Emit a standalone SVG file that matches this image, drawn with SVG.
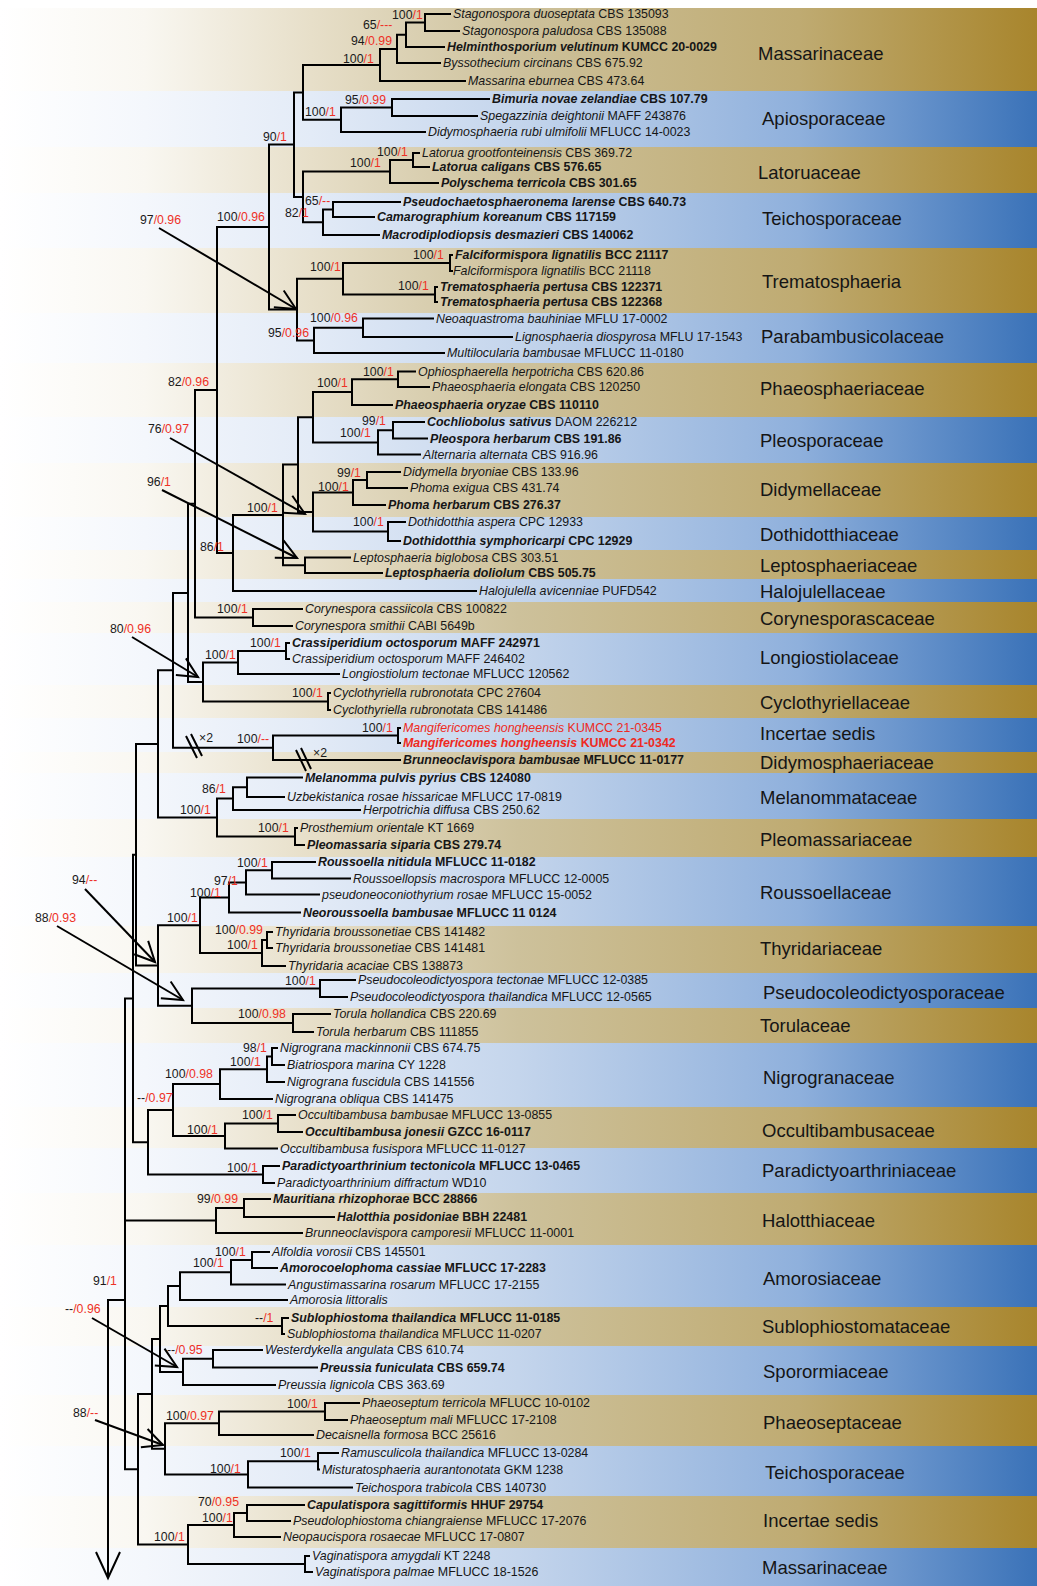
<svg xmlns="http://www.w3.org/2000/svg" width="1037" height="1586" viewBox="0 0 1037 1586">
<style>
.tx{font-family:"Liberation Sans",Arial,sans-serif;font-size:12.4px;fill:#161616}
.b{font-weight:bold}
.i{font-style:italic}
.red{fill:#ee2a22}
.s{font-family:"Liberation Sans",Arial,sans-serif;font-size:12.3px;fill:#1a1a1a}
.p{fill:#ee3126}
.f{font-family:"Liberation Sans",Arial,sans-serif;font-size:18.5px;fill:#151515}
.ln{fill:none;stroke:#000;stroke-width:2;stroke-linecap:square}
.ar{fill:none;stroke:#000;stroke-width:2}
</style>
<defs>
<linearGradient id="gt" x1="0" y1="0" x2="1037" y2="0" gradientUnits="userSpaceOnUse">
<stop offset="0" stop-color="#ffffff"/>
<stop offset="0.14" stop-color="#f9f7f1"/>
<stop offset="0.3" stop-color="#e7dfc9"/>
<stop offset="0.5" stop-color="#cdc19b"/>
<stop offset="0.77" stop-color="#bfab72"/>
<stop offset="1" stop-color="#a8852c"/>
</linearGradient>
<linearGradient id="gb" x1="0" y1="0" x2="1037" y2="0" gradientUnits="userSpaceOnUse">
<stop offset="0" stop-color="#ffffff"/>
<stop offset="0.14" stop-color="#f4f7fc"/>
<stop offset="0.3" stop-color="#e3ebf7"/>
<stop offset="0.5" stop-color="#c4d5ec"/>
<stop offset="0.77" stop-color="#8fb0dc"/>
<stop offset="1" stop-color="#3a72b8"/>
</linearGradient>
<marker id="ah" markerUnits="userSpaceOnUse" markerWidth="24" markerHeight="24" refX="20" refY="10" orient="auto" overflow="visible">
<path d="M0,0.3 L20,10 L0,19.7" fill="none" stroke="#000" stroke-width="2"/>
</marker>
</defs>
<rect width="1037" height="1586" fill="#ffffff"/>
<g id="bands">
<rect x="0" y="8" width="1037" height="83" fill="url(#gt)"/>
<rect x="0" y="91" width="1037" height="56" fill="url(#gb)"/>
<rect x="0" y="147" width="1037" height="46" fill="url(#gt)"/>
<rect x="0" y="193" width="1037" height="55" fill="url(#gb)"/>
<rect x="0" y="248" width="1037" height="65" fill="url(#gt)"/>
<rect x="0" y="313" width="1037" height="50" fill="url(#gb)"/>
<rect x="0" y="363" width="1037" height="54" fill="url(#gt)"/>
<rect x="0" y="417" width="1037" height="46" fill="url(#gb)"/>
<rect x="0" y="463" width="1037" height="54" fill="url(#gt)"/>
<rect x="0" y="517" width="1037" height="33" fill="url(#gb)"/>
<rect x="0" y="550" width="1037" height="29" fill="url(#gt)"/>
<rect x="0" y="579" width="1037" height="23" fill="url(#gb)"/>
<rect x="0" y="602" width="1037" height="31" fill="url(#gt)"/>
<rect x="0" y="633" width="1037" height="52" fill="url(#gb)"/>
<rect x="0" y="685" width="1037" height="33" fill="url(#gt)"/>
<rect x="0" y="718" width="1037" height="34" fill="url(#gb)"/>
<rect x="0" y="752" width="1037" height="21" fill="url(#gt)"/>
<rect x="0" y="773" width="1037" height="46" fill="url(#gb)"/>
<rect x="0" y="819" width="1037" height="38" fill="url(#gt)"/>
<rect x="0" y="857" width="1037" height="69" fill="url(#gb)"/>
<rect x="0" y="926" width="1037" height="47" fill="url(#gt)"/>
<rect x="0" y="973" width="1037" height="35" fill="url(#gb)"/>
<rect x="0" y="1008" width="1037" height="35" fill="url(#gt)"/>
<rect x="0" y="1043" width="1037" height="64" fill="url(#gb)"/>
<rect x="0" y="1107" width="1037" height="41" fill="url(#gt)"/>
<rect x="0" y="1148" width="1037" height="45" fill="url(#gb)"/>
<rect x="0" y="1193" width="1037" height="52" fill="url(#gt)"/>
<rect x="0" y="1245" width="1037" height="62" fill="url(#gb)"/>
<rect x="0" y="1307" width="1037" height="39" fill="url(#gt)"/>
<rect x="0" y="1346" width="1037" height="49" fill="url(#gb)"/>
<rect x="0" y="1395" width="1037" height="51" fill="url(#gt)"/>
<rect x="0" y="1446" width="1037" height="50" fill="url(#gb)"/>
<rect x="0" y="1496" width="1037" height="52" fill="url(#gt)"/>
<rect x="0" y="1548" width="1037" height="38" fill="url(#gb)"/>
</g>
<g id="connectors">
<path class="ln" d="M425 14V31M425 14H450M425 31H459M406 22.5V47M406 22.5H425M406 47H444M397 34.75V63M397 34.75H406M397 63H440M380 48.9V81M380 48.9H397M380 81H465M303 65H380
M392 99V116M392 99H489M392 116H477M341 107.5V132M341 107.5H392M341 132H425M303 119.75H341M303 65V119.75M294 92.4H303
M413 153V167M413 153H419M413 167H429M390 160V183M390 160H413M390 183H438M303 171.5H390
M333 202V217M333 202H400M333 217H374M323 209.5V235M323 209.5H333M323 235H379M303 222.25H323M303 171.5V222.25M294 196.9H303M294 92.4V196.9M269 144.6H294
M450 255V271M450 255H452M450 271H452M343 263H450M435 287V302M435 287H437M435 302H437M343 294.5H435M343 263V294.5M297 278.75H343
M363 318.5V337M363 318.5H433M363 337H512M314 327.75V353M314 327.75H363M314 353H444M297 340.4H314M297 278.75V340.4M269 309.6H297M269 144.6V309.6M217 227.1H269
M398 371.5V387M398 371.5H415M398 387H429M352 379.25V405M352 379.25H398M352 405H392M313 392.1H352
M393 422V438.5M393 422H424M393 438.5H427M378 430.25V454.5M378 430.25H393M378 454.5H420M313 442.4H378M313 392.1V442.4M298 417.25H313
M367 472V488M367 472H400M367 488H407M353 480V505M353 480H367M353 505H385M313 492.5H353
M388 522V541M388 522H405M388 541H400M313 531.5H388M313 492.5V531.5M298 512H313M298 417.25V512M283 464.6H298
M305 557.5V573M305 557.5H350M305 573H382M283 565.25H305M283 464.6V565.25M233 514.9H283M233 591H476M233 514.9V591M217 553H233M217 227.1V553M195 390H217
M253 609V626M253 609H302M253 626H292M195 617.5H253M195 390V617.5M188 503.75H195
M286 643V659M286 643H289M286 659H289M238 651H286M238 674H339M238 651V674M203 662.5H238
M328 693V710M328 693H330M328 710H330M203 701.5H328M203 662.5V701.5M188 682H203M188 503.75V682M173 592.9H188
M398 728V743M398 728H400M398 743H400M273 735.5H398M273 760H400M273 735.5V760M173 747.75H273M173 592.9V747.75M158 670.3H173
M247 777.5V797M247 777.5H302M247 797H284M233 787.25H247M233 810H360M233 787.25V810M217 798.6H233
M295 828V845M295 828H297M295 845H304M217 836.5H295M217 798.6V836.5M158 817.5H217M158 670.3V817.5M136 743.9H158
M272 862V878.5M272 862H315M272 878.5H350M246 870.25V894.5M246 870.25H272M246 894.5H319M229 882.4V912.5M229 882.4H246M229 912.5H300M200 897.4H229
M267 932V948M267 932H272M267 948H272M262 940V966M262 940H267M262 966H285M200 953H262M200 897.4V953M158 925.2H200
M320 980V997M320 980H355M320 997H347M192 988.5H320M293 1014V1032M293 1014H330M293 1032H313M192 1023H293M192 988.5V1023M158 1005.75H192M158 925.2V1005.75M136 965.5H158M136 743.9V965.5M133 854.7H136
M272 1048V1065M272 1048H277M272 1065H284M267 1056.5V1082M267 1056.5H272M267 1082H284M220 1069.25V1099M220 1069.25H267M220 1099H272M173 1084.1H220
M278 1115V1132M278 1115H295M278 1132H302M225 1123.5V1148.5M225 1123.5H278M225 1148.5H277M173 1136H225M173 1084.1V1136M148 1110H173
M263 1166V1183M263 1166H279M263 1183H274M148 1174.5H263M148 1110V1174.5M133 1142.25H148M133 854.7V1142.25M125 998.5H133
M244 1199V1217M244 1199H270M244 1217H334M216 1208V1233M216 1208H244M216 1233H302M125 1220.5H216
M252 1252V1268M252 1252H269M252 1268H277M231 1260V1284.5M231 1260H252M231 1284.5H285M180 1272.25V1300M180 1272.25H231M180 1300H287M168 1286.1H180
M282 1318V1334M282 1318H288M282 1334H284M168 1326H282M168 1286.1V1326M160 1306H168
M213 1350V1367.5M213 1350H262M213 1367.5H317M183 1358.75V1385M183 1358.75H213M183 1385H275M160 1371.9H183M160 1306V1371.9M152 1339H160
M325 1403V1420M325 1403H359M325 1420H347M219 1411.5V1435M219 1411.5H325M219 1435H313M165 1423.25H219
M318 1453V1469.5M318 1453H338M318 1469.5H319M248 1461.25V1487.5M248 1461.25H318M248 1487.5H352M165 1474.4H248M165 1423.25V1474.4M152 1448.8H165M152 1339V1448.8M138 1393.9H152
M247 1505V1521M247 1505H304M247 1521H290M234 1513V1537M234 1513H247M234 1537H280M188 1525H234
M305 1556V1572M305 1556H309M305 1572H312M188 1564H305M188 1525V1564M138 1544.5H188M138 1393.9V1544.5M125 1469.2H138M125 998.5V1469.2
M108 1300H125M108 1300V1576"/>
<path class="ar" d="M96 1552L108 1578L120 1552"/>
<path class="ar" d="M186 736L197 758M191 734L202 756M296 750L306 771M301 748L311 769" stroke-width="1.8"/>
<path class="ar" marker-end="url(#ah)" d="M159 228L296 309"/>
<path class="ar" marker-end="url(#ah)" d="M170 438L305 514"/>
<path class="ar" marker-end="url(#ah)" d="M162 490L297 558"/>
<path class="ar" marker-end="url(#ah)" d="M132 637L198 677"/>
<path class="ar" marker-end="url(#ah)" d="M85 889L155 962"/>
<path class="ar" marker-end="url(#ah)" d="M57 926L183 1000"/>
<path class="ar" marker-end="url(#ah)" d="M92 1318L177 1367"/>
<path class="ar" marker-end="url(#ah)" d="M95 1420L163 1445"/>
</g>
<g id="taxa">
<g id="t1"><text class="tx" x="453" y="18.4"><tspan class="i">Stagonospora duoseptata</tspan> CBS 135093</text></g>
<g id="t2"><text class="tx" x="462" y="35.4"><tspan class="i">Stagonospora paludosa</tspan> CBS 135088</text></g>
<g id="t3"><text class="tx b" x="447" y="51.4"><tspan class="i">Helminthosporium velutinum</tspan> KUMCC 20-0029</text></g>
<g id="t4"><text class="tx" x="443" y="67.4"><tspan class="i">Byssothecium circinans</tspan> CBS 675.92</text></g>
<g id="t5"><text class="tx" x="468" y="85.4"><tspan class="i">Massarina eburnea</tspan> CBS 473.64</text></g>
<g id="t6"><text class="tx b" x="492" y="103.4"><tspan class="i">Bimuria novae zelandiae</tspan> CBS 107.79</text></g>
<g id="t7"><text class="tx" x="480" y="120.4"><tspan class="i">Spegazzinia deightonii</tspan> MAFF 243876</text></g>
<g id="t8"><text class="tx" x="428" y="136.4"><tspan class="i">Didymosphaeria rubi ulmifolii</tspan> MFLUCC 14-0023</text></g>
<g id="t9"><text class="tx" x="422" y="157.4"><tspan class="i">Latorua grootfonteinensis</tspan> CBS 369.72</text></g>
<g id="t10"><text class="tx b" x="432" y="171.4"><tspan class="i">Latorua caligans</tspan> CBS 576.65</text></g>
<g id="t11"><text class="tx b" x="441" y="187.4"><tspan class="i">Polyschema terricola</tspan> CBS 301.65</text></g>
<g id="t12"><text class="tx b" x="403" y="206.4"><tspan class="i">Pseudochaetosphaeronema larense</tspan> CBS 640.73</text></g>
<g id="t13"><text class="tx b" x="377" y="221.4"><tspan class="i">Camarographium koreanum</tspan> CBS 117159</text></g>
<g id="t14"><text class="tx b" x="382" y="239.4"><tspan class="i">Macrodiplodiopsis desmazieri</tspan> CBS 140062</text></g>
<g id="t15"><text class="tx b" x="455" y="259.4"><tspan class="i">Falciformispora lignatilis</tspan> BCC 21117</text></g>
<g id="t16"><text class="tx" x="453" y="275.4"><tspan class="i">Falciformispora lignatilis</tspan> BCC 21118</text></g>
<g id="t17"><text class="tx b" x="440" y="291.4"><tspan class="i">Trematosphaeria pertusa</tspan> CBS 122371</text></g>
<g id="t18"><text class="tx b" x="440" y="306.4"><tspan class="i">Trematosphaeria pertusa</tspan> CBS 122368</text></g>
<g id="t19"><text class="tx" x="436" y="322.9"><tspan class="i">Neoaquastroma bauhiniae</tspan> MFLU 17-0002</text></g>
<g id="t20"><text class="tx" x="515" y="341.4"><tspan class="i">Lignosphaeria diospyrosa</tspan> MFLU 17-1543</text></g>
<g id="t21"><text class="tx" x="447" y="357.4"><tspan class="i">Multilocularia bambusae</tspan> MFLUCC 11-0180</text></g>
<g id="t22"><text class="tx" x="418" y="375.9"><tspan class="i">Ophiosphaerella herpotricha</tspan> CBS 620.86</text></g>
<g id="t23"><text class="tx" x="432" y="391.4"><tspan class="i">Phaeosphaeria elongata</tspan> CBS 120250</text></g>
<g id="t24"><text class="tx b" x="395" y="409.4"><tspan class="i">Phaeosphaeria oryzae</tspan> CBS 110110</text></g>
<g id="t25"><text class="tx" x="427" y="426.4"><tspan class="i b">Cochliobolus sativus</tspan> DAOM 226212</text></g>
<g id="t26"><text class="tx b" x="430" y="442.9"><tspan class="i">Pleospora herbarum</tspan> CBS 191.86</text></g>
<g id="t27"><text class="tx" x="423" y="458.9"><tspan class="i">Alternaria alternata</tspan> CBS 916.96</text></g>
<g id="t28"><text class="tx" x="403" y="476.4"><tspan class="i">Didymella bryoniae</tspan> CBS 133.96</text></g>
<g id="t29"><text class="tx" x="410" y="492.4"><tspan class="i">Phoma exigua</tspan> CBS 431.74</text></g>
<g id="t30"><text class="tx b" x="388" y="509.4"><tspan class="i">Phoma herbarum</tspan> CBS 276.37</text></g>
<g id="t31"><text class="tx" x="408" y="526.4"><tspan class="i">Dothidotthia aspera</tspan> CPC 12933</text></g>
<g id="t32"><text class="tx b" x="403" y="545.4"><tspan class="i">Dothidotthia symphoricarpi</tspan> CPC 12929</text></g>
<g id="t33"><text class="tx" x="353" y="561.9"><tspan class="i">Leptosphaeria biglobosa</tspan> CBS 303.51</text></g>
<g id="t34"><text class="tx b" x="385" y="577.4"><tspan class="i">Leptosphaeria doliolum</tspan> CBS 505.75</text></g>
<g id="t35"><text class="tx" x="479" y="595.4"><tspan class="i">Halojulella avicenniae</tspan> PUFD542</text></g>
<g id="t36"><text class="tx" x="305" y="613.4"><tspan class="i">Corynespora cassiicola</tspan> CBS 100822</text></g>
<g id="t37"><text class="tx" x="295" y="630.4"><tspan class="i">Corynespora smithii</tspan> CABI 5649b</text></g>
<g id="t38"><text class="tx b" x="292" y="647.4"><tspan class="i">Crassiperidium octosporum</tspan> MAFF 242971</text></g>
<g id="t39"><text class="tx" x="292" y="663.4"><tspan class="i">Crassiperidium octosporum</tspan> MAFF 246402</text></g>
<g id="t40"><text class="tx" x="342" y="678.4"><tspan class="i">Longiostiolum tectonae</tspan> MFLUCC 120562</text></g>
<g id="t41"><text class="tx" x="333" y="697.4"><tspan class="i">Cyclothyriella rubronotata</tspan> CPC 27604</text></g>
<g id="t42"><text class="tx" x="333" y="714.4"><tspan class="i">Cyclothyriella rubronotata</tspan> CBS 141486</text></g>
<g id="t43"><text class="tx red" x="403" y="732.4"><tspan class="i">Mangifericomes hongheensis</tspan> KUMCC 21-0345</text></g>
<g id="t44"><text class="tx red b" x="403" y="747.4"><tspan class="i">Mangifericomes hongheensis</tspan> KUMCC 21-0342</text></g>
<g id="t45"><text class="tx b" x="403" y="764.4"><tspan class="i">Brunneoclavispora bambusae</tspan> MFLUCC 11-0177</text></g>
<g id="t46"><text class="tx b" x="305" y="781.9"><tspan class="i">Melanomma pulvis pyrius</tspan> CBS 124080</text></g>
<g id="t47"><text class="tx" x="287" y="801.4"><tspan class="i">Uzbekistanica rosae hissaricae</tspan> MFLUCC 17-0819</text></g>
<g id="t48"><text class="tx" x="363" y="814.4"><tspan class="i">Herpotrichia diffusa</tspan> CBS 250.62</text></g>
<g id="t49"><text class="tx" x="300" y="832.4"><tspan class="i">Prosthemium orientale</tspan> KT 1669</text></g>
<g id="t50"><text class="tx b" x="307" y="849.4"><tspan class="i">Pleomassaria siparia</tspan> CBS 279.74</text></g>
<g id="t51"><text class="tx b" x="318" y="866.4"><tspan class="i">Roussoella nitidula</tspan> MFLUCC 11-0182</text></g>
<g id="t52"><text class="tx" x="353" y="882.9"><tspan class="i">Roussoellopsis macrospora</tspan> MFLUCC 12-0005</text></g>
<g id="t53"><text class="tx" x="322" y="898.9"><tspan class="i">pseudoneoconiothyrium rosae</tspan> MFLUCC 15-0052</text></g>
<g id="t54"><text class="tx b" x="303" y="916.9"><tspan class="i">Neoroussoella bambusae</tspan> MFLUCC 11 0124</text></g>
<g id="t55"><text class="tx" x="275" y="936.4"><tspan class="i">Thyridaria broussonetiae</tspan> CBS 141482</text></g>
<g id="t56"><text class="tx" x="275" y="952.4"><tspan class="i">Thyridaria broussonetiae</tspan> CBS 141481</text></g>
<g id="t57"><text class="tx" x="288" y="970.4"><tspan class="i">Thyridaria acaciae</tspan> CBS 138873</text></g>
<g id="t58"><text class="tx" x="358" y="984.4"><tspan class="i">Pseudocoleodictyospora tectonae</tspan> MFLUCC 12-0385</text></g>
<g id="t59"><text class="tx" x="350" y="1001.4"><tspan class="i">Pseudocoleodictyospora thailandica</tspan> MFLUCC 12-0565</text></g>
<g id="t60"><text class="tx" x="333" y="1018.4"><tspan class="i">Torula hollandica</tspan> CBS 220.69</text></g>
<g id="t61"><text class="tx" x="316" y="1036.4"><tspan class="i">Torula herbarum</tspan> CBS 111855</text></g>
<g id="t62"><text class="tx" x="280" y="1052.4"><tspan class="i">Nigrograna mackinnonii</tspan> CBS 674.75</text></g>
<g id="t63"><text class="tx" x="287" y="1069.4"><tspan class="i">Biatriospora marina</tspan> CY 1228</text></g>
<g id="t64"><text class="tx" x="287" y="1086.4"><tspan class="i">Nigrograna fuscidula</tspan> CBS 141556</text></g>
<g id="t65"><text class="tx" x="275" y="1103.4"><tspan class="i">Nigrograna obliqua</tspan> CBS 141475</text></g>
<g id="t66"><text class="tx" x="298" y="1119.4"><tspan class="i">Occultibambusa bambusae</tspan> MFLUCC 13-0855</text></g>
<g id="t67"><text class="tx b" x="305" y="1136.4"><tspan class="i">Occultibambusa jonesii</tspan> GZCC 16-0117</text></g>
<g id="t68"><text class="tx" x="280" y="1152.9"><tspan class="i">Occultibambusa fusispora</tspan> MFLUCC 11-0127</text></g>
<g id="t69"><text class="tx b" x="282" y="1170.4"><tspan class="i">Paradictyoarthrinium tectonicola</tspan> MFLUCC 13-0465</text></g>
<g id="t70"><text class="tx" x="277" y="1187.4"><tspan class="i">Paradictyoarthrinium diffractum</tspan> WD10</text></g>
<g id="t71"><text class="tx b" x="273" y="1203.4"><tspan class="i">Mauritiana rhizophorae</tspan> BCC 28866</text></g>
<g id="t72"><text class="tx b" x="337" y="1221.4"><tspan class="i">Halotthia posidoniae</tspan> BBH 22481</text></g>
<g id="t73"><text class="tx" x="305" y="1237.4"><tspan class="i">Brunneoclavispora camporesii</tspan> MFLUCC 11-0001</text></g>
<g id="t74"><text class="tx" x="272" y="1256.4"><tspan class="i">Alfoldia vorosii</tspan> CBS 145501</text></g>
<g id="t75"><text class="tx b" x="280" y="1272.4"><tspan class="i">Amorocoelophoma cassiae</tspan> MFLUCC 17-2283</text></g>
<g id="t76"><text class="tx" x="288" y="1288.9"><tspan class="i">Angustimassarina rosarum</tspan> MFLUCC 17-2155</text></g>
<g id="t77"><text class="tx" x="290" y="1304.4"><tspan class="i">Amorosia littoralis</tspan></text></g>
<g id="t78"><text class="tx b" x="291" y="1322.4"><tspan class="i">Sublophiostoma thailandica</tspan> MFLUCC 11-0185</text></g>
<g id="t79"><text class="tx" x="287" y="1338.4"><tspan class="i">Sublophiostoma thailandica</tspan> MFLUCC 11-0207</text></g>
<g id="t80"><text class="tx" x="265" y="1354.4"><tspan class="i">Westerdykella angulata</tspan> CBS 610.74</text></g>
<g id="t81"><text class="tx b" x="320" y="1371.9"><tspan class="i">Preussia funiculata</tspan> CBS 659.74</text></g>
<g id="t82"><text class="tx" x="278" y="1389.4"><tspan class="i">Preussia lignicola</tspan> CBS 363.69</text></g>
<g id="t83"><text class="tx" x="362" y="1407.4"><tspan class="i">Phaeoseptum terricola</tspan> MFLUCC 10-0102</text></g>
<g id="t84"><text class="tx" x="350" y="1424.4"><tspan class="i">Phaeoseptum mali</tspan> MFLUCC 17-2108</text></g>
<g id="t85"><text class="tx" x="316" y="1439.4"><tspan class="i">Decaisnella formosa</tspan> BCC 25616</text></g>
<g id="t86"><text class="tx" x="341" y="1457.4"><tspan class="i">Ramusculicola thailandica</tspan> MFLUCC 13-0284</text></g>
<g id="t87"><text class="tx" x="322" y="1473.9"><tspan class="i">Misturatosphaeria aurantonotata</tspan> GKM 1238</text></g>
<g id="t88"><text class="tx" x="355" y="1491.9"><tspan class="i">Teichospora trabicola</tspan> CBS 140730</text></g>
<g id="t89"><text class="tx b" x="307" y="1509.4"><tspan class="i">Capulatispora sagittiformis</tspan> HHUF 29754</text></g>
<g id="t90"><text class="tx" x="293" y="1525.4"><tspan class="i">Pseudolophiostoma chiangraiense</tspan> MFLUCC 17-2076</text></g>
<g id="t91"><text class="tx" x="283" y="1541.4"><tspan class="i">Neopaucispora rosaecae</tspan> MFLUCC 17-0807</text></g>
<g id="t92"><text class="tx" x="312" y="1560.4"><tspan class="i">Vaginatispora amygdali</tspan> KT 2248</text></g>
<g id="t93"><text class="tx" x="315" y="1576.4"><tspan class="i">Vaginatispora palmae</tspan> MFLUCC 18-1526</text></g>
</g>
<g id="support">
<text class="s" x="392" y="19">100<tspan class="p">/1</tspan></text>
<text class="s" x="363" y="29">65<tspan class="p">/---</tspan></text>
<text class="s" x="351" y="45">94<tspan class="p">/0.99</tspan></text>
<text class="s" x="343" y="63">100<tspan class="p">/1</tspan></text>
<text class="s" x="345" y="104">95<tspan class="p">/0.99</tspan></text>
<text class="s" x="305" y="116">100<tspan class="p">/1</tspan></text>
<text class="s" x="263" y="141">90<tspan class="p">/1</tspan></text>
<text class="s" x="377" y="156">100<tspan class="p">/1</tspan></text>
<text class="s" x="350" y="167">100<tspan class="p">/1</tspan></text>
<text class="s" x="305" y="205">65<tspan class="p">/--</tspan></text>
<text class="s" x="285" y="217">82<tspan class="p">/1</tspan></text>
<text class="s" x="217" y="221">100<tspan class="p">/0.96</tspan></text>
<text class="s" x="140" y="224">97<tspan class="p">/0.96</tspan></text>
<text class="s" x="413" y="259">100<tspan class="p">/1</tspan></text>
<text class="s" x="310" y="271">100<tspan class="p">/1</tspan></text>
<text class="s" x="398" y="290">100<tspan class="p">/1</tspan></text>
<text class="s" x="310" y="322">100<tspan class="p">/0.96</tspan></text>
<text class="s" x="268" y="337">95<tspan class="p">/0.96</tspan></text>
<text class="s" x="168" y="386">82<tspan class="p">/0.96</tspan></text>
<text class="s" x="363" y="376">100<tspan class="p">/1</tspan></text>
<text class="s" x="317" y="387">100<tspan class="p">/1</tspan></text>
<text class="s" x="362" y="425">99<tspan class="p">/1</tspan></text>
<text class="s" x="340" y="437">100<tspan class="p">/1</tspan></text>
<text class="s" x="148" y="433">76<tspan class="p">/0.97</tspan></text>
<text class="s" x="337" y="477">99<tspan class="p">/1</tspan></text>
<text class="s" x="318" y="491">100<tspan class="p">/1</tspan></text>
<text class="s" x="147" y="486">96<tspan class="p">/1</tspan></text>
<text class="s" x="247" y="512">100<tspan class="p">/1</tspan></text>
<text class="s" x="353" y="526">100<tspan class="p">/1</tspan></text>
<text class="s" x="200" y="551">86<tspan class="p">/1</tspan></text>
<text class="s" x="217" y="613">100<tspan class="p">/1</tspan></text>
<text class="s" x="110" y="633">80<tspan class="p">/0.96</tspan></text>
<text class="s" x="250" y="647">100<tspan class="p">/1</tspan></text>
<text class="s" x="205" y="659">100<tspan class="p">/1</tspan></text>
<text class="s" x="292" y="697">100<tspan class="p">/1</tspan></text>
<text class="s" x="362" y="732">100<tspan class="p">/1</tspan></text>
<text class="s" x="237" y="743">100<tspan class="p">/--</tspan></text>
<text class="s" x="199" y="742">×2</text>
<text class="s" x="313" y="757">×2</text>
<text class="s" x="202" y="793">86<tspan class="p">/1</tspan></text>
<text class="s" x="180" y="814">100<tspan class="p">/1</tspan></text>
<text class="s" x="258" y="832">100<tspan class="p">/1</tspan></text>
<text class="s" x="237" y="867">100<tspan class="p">/1</tspan></text>
<text class="s" x="214" y="885">97<tspan class="p">/1</tspan></text>
<text class="s" x="190" y="897">100<tspan class="p">/1</tspan></text>
<text class="s" x="72" y="884">94<tspan class="p">/--</tspan></text>
<text class="s" x="167" y="922">100<tspan class="p">/1</tspan></text>
<text class="s" x="35" y="922">88<tspan class="p">/0.93</tspan></text>
<text class="s" x="215" y="934">100<tspan class="p">/0.99</tspan></text>
<text class="s" x="227" y="949">100<tspan class="p">/1</tspan></text>
<text class="s" x="285" y="985">100<tspan class="p">/1</tspan></text>
<text class="s" x="238" y="1018">100<tspan class="p">/0.98</tspan></text>
<text class="s" x="243" y="1052">98<tspan class="p">/1</tspan></text>
<text class="s" x="230" y="1066">100<tspan class="p">/1</tspan></text>
<text class="s" x="165" y="1078">100<tspan class="p">/0.98</tspan></text>
<text class="s" x="137" y="1102">--<tspan class="p">/0.97</tspan></text>
<text class="s" x="242" y="1119">100<tspan class="p">/1</tspan></text>
<text class="s" x="187" y="1134">100<tspan class="p">/1</tspan></text>
<text class="s" x="227" y="1172">100<tspan class="p">/1</tspan></text>
<text class="s" x="197" y="1203">99<tspan class="p">/0.99</tspan></text>
<text class="s" x="215" y="1256">100<tspan class="p">/1</tspan></text>
<text class="s" x="193" y="1267">100<tspan class="p">/1</tspan></text>
<text class="s" x="93" y="1285">91<tspan class="p">/1</tspan></text>
<text class="s" x="65" y="1313">--<tspan class="p">/0.96</tspan></text>
<text class="s" x="255" y="1322">--<tspan class="p">/1</tspan></text>
<text class="s" x="167" y="1354">--<tspan class="p">/0.95</tspan></text>
<text class="s" x="73" y="1417">88<tspan class="p">/--</tspan></text>
<text class="s" x="287" y="1408">100<tspan class="p">/1</tspan></text>
<text class="s" x="166" y="1420">100<tspan class="p">/0.97</tspan></text>
<text class="s" x="280" y="1457">100<tspan class="p">/1</tspan></text>
<text class="s" x="210" y="1473">100<tspan class="p">/1</tspan></text>
<text class="s" x="198" y="1506">70<tspan class="p">/0.95</tspan></text>
<text class="s" x="202" y="1522">100<tspan class="p">/1</tspan></text>
<text class="s" x="154" y="1541">100<tspan class="p">/1</tspan></text>
</g>
<g id="families">
<text class="f" x="758" y="59.5">Massarinaceae</text>
<text class="f" x="762" y="124.5">Apiosporaceae</text>
<text class="f" x="758" y="178.5">Latoruaceae</text>
<text class="f" x="762" y="224.5">Teichosporaceae</text>
<text class="f" x="762" y="287.5">Trematosphaeria</text>
<text class="f" x="761" y="342.5">Parabambusicolaceae</text>
<text class="f" x="760" y="394.5">Phaeosphaeriaceae</text>
<text class="f" x="760" y="446.5">Pleosporaceae</text>
<text class="f" x="760" y="495.5">Didymellaceae</text>
<text class="f" x="760" y="540.5">Dothidotthiaceae</text>
<text class="f" x="760" y="571.5">Leptosphaeriaceae</text>
<text class="f" x="760" y="597.5">Halojulellaceae</text>
<text class="f" x="760" y="624.5">Corynesporascaceae</text>
<text class="f" x="760" y="663.5">Longiostiolaceae</text>
<text class="f" x="760" y="708.5">Cyclothyriellaceae</text>
<text class="f" x="760" y="739.5">Incertae sedis</text>
<text class="f" x="760" y="768.5">Didymosphaeriaceae</text>
<text class="f" x="760" y="803.5">Melanommataceae</text>
<text class="f" x="760" y="845.5">Pleomassariaceae</text>
<text class="f" x="760" y="898.5">Roussoellaceae</text>
<text class="f" x="760" y="954.5">Thyridariaceae</text>
<text class="f" x="763" y="998.5">Pseudocoleodictyosporaceae</text>
<text class="f" x="760" y="1031.5">Torulaceae</text>
<text class="f" x="763" y="1083.5">Nigrogranaceae</text>
<text class="f" x="762" y="1136.5">Occultibambusaceae</text>
<text class="f" x="762" y="1176.5">Paradictyoarthriniaceae</text>
<text class="f" x="762" y="1226.5">Halotthiaceae</text>
<text class="f" x="763" y="1284.5">Amorosiaceae</text>
<text class="f" x="762" y="1332.5">Sublophiostomataceae</text>
<text class="f" x="763" y="1377.5">Sporormiaceae</text>
<text class="f" x="763" y="1428.5">Phaeoseptaceae</text>
<text class="f" x="765" y="1478.5">Teichosporaceae</text>
<text class="f" x="763" y="1526.5">Incertae sedis</text>
<text class="f" x="762" y="1573.5">Massarinaceae</text>
</g>
</svg>
